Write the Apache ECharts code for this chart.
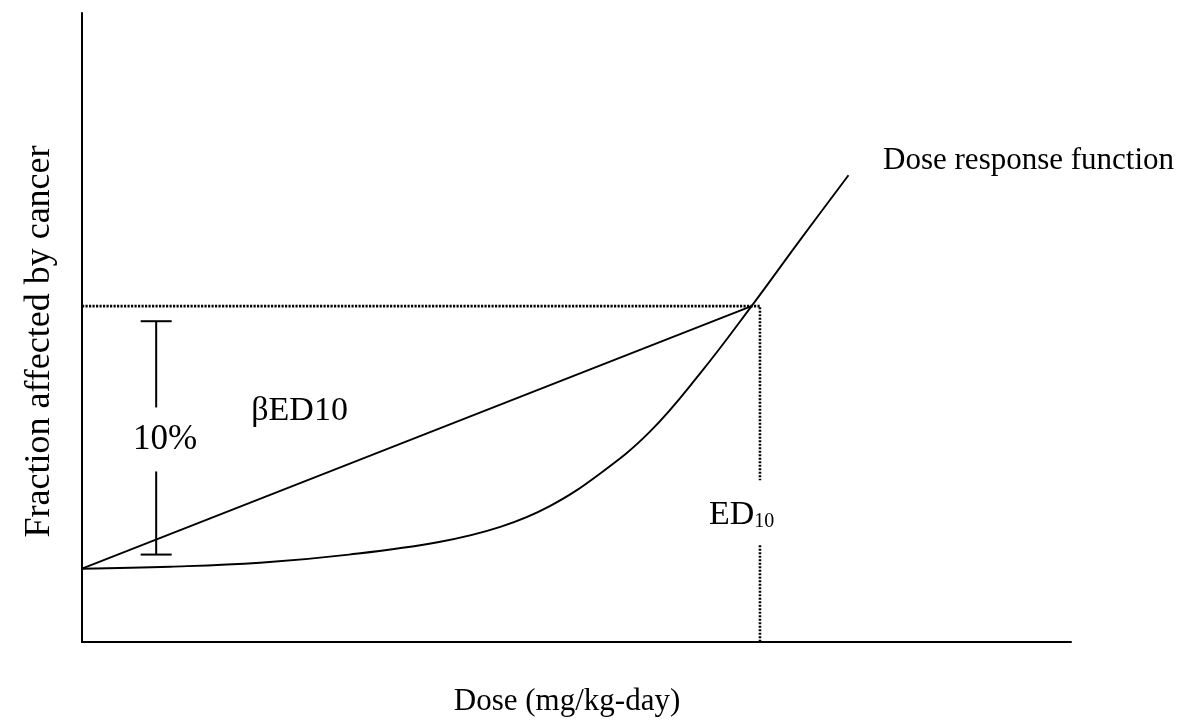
<!DOCTYPE html>
<html>
<head>
<meta charset="utf-8">
<title>Dose response</title>
<script src="https://cdn.jsdelivr.net/npm/echarts@6/dist/echarts.min.js"></script>
<style>
  html, body { margin: 0; padding: 0; background: #ffffff; }
  #chart { width: 1179px; height: 722px; }
</style>
</head>
<body>
<div id="chart"></div>
<script>
// Dose (arbitrary units, 0-100) and fraction affected (arbitrary units, 0-100)
const doseX = [0, 8.9, 18.0, 27.0, 36.1, 42.3, 47.3, 52.4, 57.4, 62.5, 67.7, 72.6, 77.5];
const responseY = [11.65, 11.97, 12.6, 13.9, 15.9, 18.3, 21.6, 26.8, 33.4, 42.7, 53.4, 63.9, 74.2];

// Background response and the 10% extra-risk point on the curve
const background = 11.65;
const ed10Dose = 68.55;
const ed10Response = 53.4;
const slopeEnd = [67.7, 53.4];

// The "10%" bracket: dose position, lower and upper ends
const bracketDose = 7.5;
const bracketLow = 13.9;
const bracketHigh = 51.0;

// Gap in the ED10 guide where its label sits
const ed10GapLow = 15.4;
const ed10GapHigh = 25.7;

const FONT = '"Liberation Serif", "Times New Roman", serif';
const INK = '#000000';

const curveData = doseX.map((d, i) => [d, responseY[i]]);

const chart = echarts.init(document.getElementById('chart'), null, { renderer: 'canvas' });

const dotted = { color: INK, width: 2.6, type: [2.2, 1.3] };

function note(x, y, text, size, align) {
  return {
    value: [x, y],
    label: {
      show: true,
      formatter: text,
      position: [0, 0],
      align: align || 'center',
      verticalAlign: 'middle',
      fontFamily: FONT,
      fontSize: size,
      lineHeight: size,
      color: INK
    }
  };
}

chart.setOption({
  animation: false,
  backgroundColor: '#ffffff',
  grid: { left: 82, right: 108, top: 13, bottom: 74, containLabel: false },
  xAxis: {
    type: 'value', min: 0, max: 100,
    axisLine: { show: true, onZero: false, lineStyle: { color: INK, width: 2 } },
    axisTick: { show: false }, axisLabel: { show: false }, splitLine: { show: false },
    name: 'Dose (mg/kg-day)', nameLocation: 'middle', nameGap: 44,
    nameTextStyle: { fontFamily: FONT, fontSize: 31, lineHeight: 31, color: INK, padding: [0, 19, 0, 0] }
  },
  yAxis: {
    type: 'value', min: 0, max: 100,
    axisLine: { show: true, onZero: false, lineStyle: { color: INK, width: 2 } },
    axisTick: { show: false }, axisLabel: { show: false }, splitLine: { show: false },
    name: 'Fraction affected by cancer', nameLocation: 'middle', nameRotate: 90, nameGap: 24,
    nameTextStyle: { fontFamily: FONT, fontSize: 36, lineHeight: 36, color: INK, padding: [0, 28, 0, 0] }
  },
  series: [
    {
      name: 'Dose response function',
      type: 'line',
      data: curveData,
      smooth: 0.4,
      showSymbol: false,
      lineStyle: { color: INK, width: 1.9 },
      z: 3
    },
    {
      name: 'Linear slope',
      type: 'line',
      data: [[0, background], slopeEnd],
      showSymbol: false,
      lineStyle: { color: INK, width: 1.9 },
      z: 3
    },
    {
      name: 'ED10 level',
      type: 'line',
      data: [[0, ed10Response], [ed10Dose, ed10Response], [ed10Dose, ed10GapHigh]],
      showSymbol: false,
      lineStyle: dotted,
      z: 2
    },
    {
      name: 'ED10 guide',
      type: 'line',
      data: [[ed10Dose, ed10GapLow], [ed10Dose, 0]],
      showSymbol: false,
      lineStyle: dotted,
      z: 2
    },
    {
      name: '10% bracket',
      type: 'custom',
      data: [[bracketDose, bracketLow, bracketHigh, 32.2]],
      encode: { x: 0, y: [1, 2] },
      renderItem: function (params, api) {
        const top = api.coord([api.value(0), api.value(2)]);
        const bot = api.coord([api.value(0), api.value(1)]);
        const mid = api.coord([api.value(0), api.value(3)]);
        const half = 15.5, gap = 32;
        const style = { stroke: INK, lineWidth: 2, fill: null };
        return {
          type: 'group',
          children: [
            { type: 'line', shape: { x1: top[0], y1: top[1], x2: top[0], y2: mid[1] - gap }, style: style },
            { type: 'line', shape: { x1: bot[0], y1: mid[1] + gap, x2: bot[0], y2: bot[1] }, style: style },
            { type: 'line', shape: { x1: top[0] - half, y1: top[1], x2: top[0] + half, y2: top[1] }, style: style },
            { type: 'line', shape: { x1: bot[0] - half, y1: bot[1], x2: bot[0] + half, y2: bot[1] }, style: style }
          ]
        };
      },
      z: 3
    },
    {
      name: 'Notes',
      type: 'scatter',
      symbolSize: 0,
      silent: true,
      itemStyle: { opacity: 1 },
      data: [
        note(8.4, 32.2, '10%', 35),
        note(22.0, 36.7, 'βED10', 34),
        note(81.0, 76.5, 'Dose response function', 31, 'left'),
        {
          value: [63.4, 20.2],
          label: {
            show: true,
            position: [0, 0],
            align: 'left',
            verticalAlign: 'middle',
            formatter: '{e|ED}{s|10}',
            rich: {
              e: { fontFamily: FONT, fontSize: 34, lineHeight: 34, color: INK, verticalAlign: 'bottom' },
              s: { fontFamily: FONT, fontSize: 20, lineHeight: 20, color: INK, verticalAlign: 'bottom' }
            }
          }
        }
      ],
      z: 4
    }
  ]
});
</script>
</body>
</html>
